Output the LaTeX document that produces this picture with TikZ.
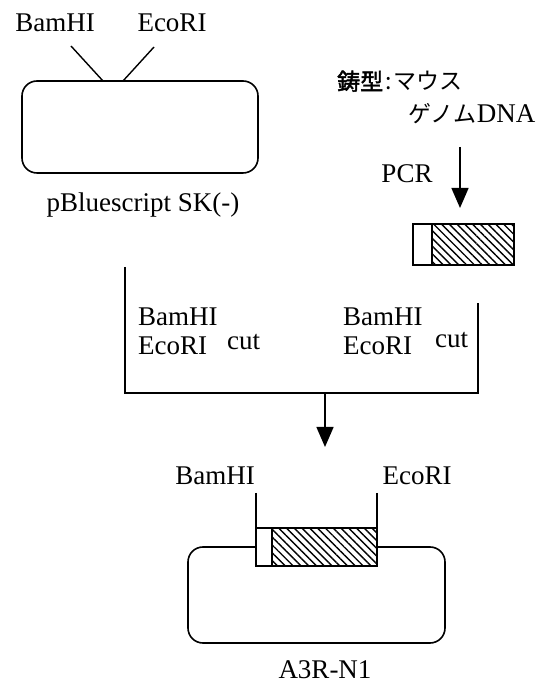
\documentclass[tikz,border=0pt]{standalone}
\usepackage{fontspec}
\setmainfont{LiberationSerif}[Extension=.ttf, UprightFont=*-Regular, BoldFont=*-Bold]
\newfontfamily\jfont{Noto Sans CJK JP}
\newfontfamily\jboldfont{Noto Sans CJK JP}[FakeBold=2]
\usetikzlibrary{arrows.meta,patterns.meta}

\tikzset{
  lbl/.style={inner sep=0pt, anchor=base},
  plasmid/.style={draw, line width=1.6pt, rounded corners=15pt, inner sep=0pt},
  hatchbox/.style={draw, line width=1.4pt, fill=white, inner sep=0pt, outer sep=0pt,
    postaction={pattern={Lines[angle=-45, distance=5.5pt, line width=1.4pt]}}},
  plainbox/.style={draw, line width=1.4pt, fill=white, inner sep=0pt, outer sep=0pt},
  bigarrow/.style={line width=1.4pt, -{Triangle[width=17pt, length=20pt]}}
}

\begin{document}
\begin{tikzpicture}[x=1pt, y=1pt, font=\fontsize{27pt}{30pt}\selectfont]
	\useasboundingbox (0,0) rectangle (539,685);
	
	% vector
	\node (pA) [plasmid, minimum width=236pt, minimum height=92pt] at (140, 558) {};
	\node (bamA) [lbl] at (55, 653) {BamHI};
	\node (ecoA) [lbl] at (172, 653) {EcoRI};
	\node (nameA) [lbl] at (143, 473) {pBluescript SK(-)};
	\coordinate (cA1) at (71, 639);
	\coordinate (cA2) at (103, 604);
	\coordinate (cA3) at (154, 638);
	\coordinate (cA4) at (123, 604);
	\path[-, line width=1.4pt]
	(cA1) edge (cA2)
	(cA3) edge (cA4);
	
	% PCR product
	\node (tmpl1) [lbl, anchor=base west] at (337, 595) {\fontsize{23pt}{26pt}\selectfont\jboldfont 鋳型\jfont\hspace{2pt}:\hspace{2pt}マウス};
	\node (tmpl2) [lbl, anchor=base west] at (408, 562) {\jfont\fontsize{23pt}{26pt}\selectfont ゲノム};
	\node (dna) [lbl, anchor=base west] at (tmpl2.base east) {DNA};
	\node (pcr) [lbl] at (407, 502) {PCR};
	\coordinate (pcrS) at (460, 538);
	\coordinate (pcrE) at (460, 477);
	\draw[bigarrow] (pcrS) -- (pcrE);
	\node (insA) [hatchbox, minimum width=82pt, minimum height=41pt] at (473, 440.5) {};
	\node (insAw) [plainbox, anchor=east, minimum width=19pt, minimum height=41pt] at (insA.west) {};
	
	% digestion
	\coordinate (brA) at (125, 418);
	\coordinate (brL) at (125, 292);
	\coordinate (brM) at (325, 292);
	\coordinate (brR) at (478, 292);
	\coordinate (brB) at (478, 382);
	\draw[line width=1.4pt] (brA) -- (brL) -- (brR) -- (brB);
	\node (bamL) [lbl, anchor=base west] at (138, 359) {BamHI};
	\node (ecoL) [lbl, anchor=base west] at (138, 330) {EcoRI};
	\node (cutL) [lbl, anchor=base west] at (227, 335) {cut};
	\node (bamR) [lbl, anchor=base west] at (343, 359) {BamHI};
	\node (ecoR) [lbl, anchor=base west] at (343, 330) {EcoRI};
	\node (cutR) [lbl, anchor=base west] at (435, 337) {cut};
	\coordinate (ligE) at (325, 238);
	\draw[bigarrow] (brM) -- (ligE);
	
	% recombinant
	\node (pB) [plasmid, minimum width=257pt, minimum height=96pt] at (316.5, 90) {};
	\node (insB) [hatchbox, minimum width=105pt, minimum height=38pt] at (324.5, 138) {};
	\node (insBw) [plainbox, anchor=east, minimum width=16pt, minimum height=38pt] at (insB.west) {};
	\node (bamB) [lbl] at (215, 200) {BamHI};
	\node (ecoB) [lbl] at (417, 200) {EcoRI};
	\coordinate (vB1) at (256, 192);
	\coordinate (vB2) at (377, 192);
	\path[-, line width=1.4pt]
	(vB1) edge (insBw.north west)
	(vB2) edge (insB.north east);
	\node (nameB) [lbl] at (325, 6) {A3R-N1};
	
\end{tikzpicture}
\end{document}
